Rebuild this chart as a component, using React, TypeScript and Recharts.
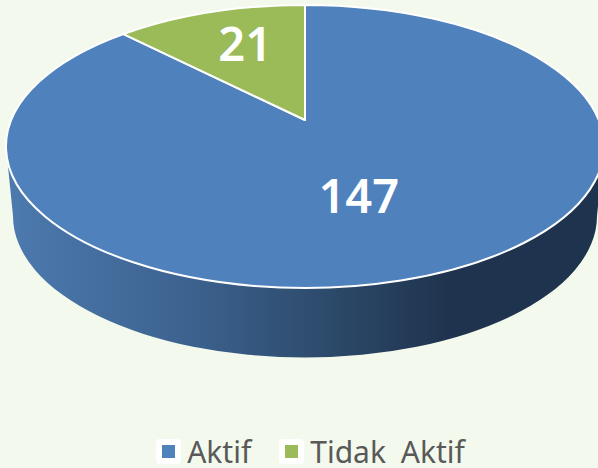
import React from "react";
import { PieChart, Pie, Legend } from "recharts";

const categories = ["Aktif", "Tidak Aktif"];
const values = [147, 21];
const colors = ["#4f81bd", "#9bbb59"];
const rows = categories.map((name, i) => ({ name, value: values[i], fill: colors[i] }));

const W = 598;
const H = 468;
const BG = "#f3f9ec";
const CX = 305;
const CY = 146.5;
const RX = 299;
const RY = 141.5;
const APEX_UP = 26.5;
const WALL_DROP = 69.5;
const WALL_RX = 292;
const LABEL_NUDGE = [[-8, 4], [2, -6]];
const RAD = Math.PI / 180;

function rayHit(cx: number, cy: number, rx: number, ry: number, angle: number) {
  const ay = -APEX_UP / ry;
  const dx = Math.cos(angle * RAD);
  const dy = -Math.sin(angle * RAD);
  const b = ay * dy;
  const t = -b + Math.sqrt(b * b - (ay * ay - 1));
  return { x: cx + rx * t * dx, y: cy + ry * (ay + t * dy) };
}

function Slice(props: any) {
  const { cx, cy, outerRadius, startAngle, endAngle, fill, index } = props;
  const rx = outerRadius;
  const ry = outerRadius * (RY / RX);
  const apexY = cy - APEX_UP;
  const p0 = rayHit(cx, cy, rx, ry, startAngle);
  const p1 = rayHit(cx, cy, rx, ry, endAngle);
  const large = Math.abs(startAngle - endAngle) > 180 ? 1 : 0;
  const top = `M${cx},${apexY} L${p0.x},${p0.y} A${rx},${ry} 0 ${large} 1 ${p1.x},${p1.y} Z`;
  const wy = cy + WALL_DROP;
  const wall = `M${cx - rx},${cy} L${cx - WALL_RX},${wy} A${WALL_RX},${ry} 0 0 0 ${cx + WALL_RX},${wy} L${cx + rx},${cy} Z`;
  return (
    <g>
      {index === 0 && (
        <>
          <defs>
            <linearGradient id="wallGrad" gradientUnits="userSpaceOnUse" x1={cx - WALL_RX} y1="0" x2={cx + WALL_RX} y2="0">
              <stop offset="0" stopColor="#4c79ae" />
              <stop offset="0.3" stopColor="#3c628f" />
              <stop offset="0.55" stopColor="#2c4969" />
              <stop offset="0.75" stopColor="#1f334e" />
              <stop offset="1" stopColor="#1e334d" />
            </linearGradient>
          </defs>
          <path d={wall} fill="url(#wallGrad)" />
        </>
      )}
      <path d={top} fill={fill} stroke="#ffffff" strokeWidth={2} strokeLinejoin="round" />
    </g>
  );
}

function SliceLabel(props: any) {
  const { cx, cy, outerRadius, midAngle, index, value } = props;
  const rx = outerRadius;
  const ry = outerRadius * (RY / RX);
  const t = 0.54;
  const x = cx + rx * t * Math.cos(midAngle * RAD) + LABEL_NUDGE[index][0];
  const y = cy - APEX_UP - ry * t * Math.sin(midAngle * RAD) + LABEL_NUDGE[index][1];
  return (
    <text x={x} y={y} textAnchor="middle" dominantBaseline="central" fill="#ffffff" fontFamily="'Noto Sans', sans-serif" fontWeight={600} fontSize={47}>
      {value}
    </text>
  );
}

function LegendContent({ payload }: any) {
  return (
    <div style={{ display: "flex", justifyContent: "center", alignItems: "center", height: 25, lineHeight: "25px", paddingLeft: 23, fontFamily: "'Noto Sans', sans-serif", fontSize: 30, color: "#595959", whiteSpace: "nowrap", wordSpacing: 7 }}>
      {(payload || []).map((e: any, i: number) => (
        <div key={e.value} style={{ display: "flex", alignItems: "center", marginLeft: i ? 28 : 0 }}>
          <span style={{ width: 25, height: 25, background: "#fff", borderRadius: 4, display: "flex", alignItems: "center", justifyContent: "center", marginRight: 6 }}>
            <span style={{ width: 13, height: 13, background: e.color, display: "block" }} />
          </span>
          <span>{e.value}</span>
        </div>
      ))}
    </div>
  );
}

export default function App() {
  return (
    <div style={{ position: "absolute", left: 0, top: 0, width: W, height: H, background: BG, overflow: "hidden" }}>
      <PieChart width={W} height={H} margin={{ top: 0, right: 0, bottom: 0, left: 0 }}>
        <Pie
          data={rows}
          dataKey="value"
          nameKey="name"
          cx={CX}
          cy={CY}
          innerRadius={0}
          outerRadius={RX}
          startAngle={90}
          endAngle={-270}
          stroke="none"
          shape={Slice}
          label={SliceLabel}
          labelLine={false}
          isAnimationActive={false}
        />
        <Legend content={LegendContent} wrapperStyle={{ position: "absolute", left: 0, top: 439, width: W, height: 25 }} />
      </PieChart>
    </div>
  );
}
